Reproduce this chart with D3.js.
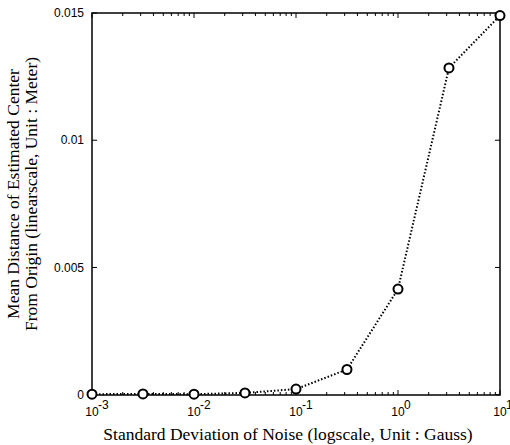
<!DOCTYPE html>
<html>
<head>
<meta charset="utf-8">
<script src="https://d3js.org/d3.v7.min.js"></script>
<style>
  body { margin: 0; background: #fff; }
  svg { display: block; }
  .tick-label { font-family: "Liberation Sans", Arial, sans-serif; font-size: 12px; }
  .axis-title { font-family: "Liberation Serif", "Times New Roman", serif; font-size: 17.5px; }
</style>
</head>
<body>
<svg id="chart" width="510" height="445"></svg>
<script>
// data
const noiseStd = [0.001, 0.00316, 0.01, 0.0316, 0.1, 0.316, 1, 3.16, 10];
const meanDist = [0.00002, 0.00003, 0.00002, 0.00007, 0.00022, 0.00099, 0.00415, 0.01284, 0.0149];
const xTickExps = [-3, -2, -1, 0, 1];
const yTicks = [0, 0.005, 0.01, 0.015];
const yTickLabels = ["0", "0.005", "0.01", "0.015"];

const svg = d3.select("#chart");
const margin = { left: 92, right: 10, top: 13, bottom: 50 };
const width = +svg.attr("width");
const height = +svg.attr("height");
const x0 = margin.left, x1 = width - margin.right;
const y0 = height - margin.bottom, y1 = margin.top;

const x = d3.scaleLog().domain([0.001, 10]).range([x0, x1]);
const y = d3.scaleLinear().domain([0, 0.015]).range([y0 - 0.3, y1]);

// minor ticks for log axis
const minorTicks = [];
xTickExps.slice(0, -1).forEach(e => {
    for (let k = 2; k <= 9; k++) minorTicks.push(k * Math.pow(10, e));
});

const g = svg.append("g");

// ticks (inside, top and bottom)
[y0, y1].forEach((yy, i) => {
    const dir = i === 0 ? -1 : 1;
    g.selectAll(null).data(xTickExps).enter().append("line")
        .attr("x1", d => x(Math.pow(10, d))).attr("x2", d => x(Math.pow(10, d)))
        .attr("y1", yy).attr("y2", yy + dir * 5)
        .attr("stroke", "#000").attr("stroke-width", 1);
    g.selectAll(null).data(minorTicks).enter().append("line")
        .attr("x1", d => x(d)).attr("x2", d => x(d))
        .attr("y1", yy).attr("y2", yy + dir * 3)
        .attr("stroke", "#000").attr("stroke-width", 1);
});
[x0, x1].forEach((xx, i) => {
    const dir = i === 0 ? 1 : -1;
    g.selectAll(null).data(yTicks).enter().append("line")
        .attr("x1", xx).attr("x2", xx + dir * 5)
        .attr("y1", d => y(d)).attr("y2", d => y(d))
        .attr("stroke", "#000").attr("stroke-width", 1);
});

// frame
g.append("rect")
    .attr("x", x0).attr("y", y1)
    .attr("width", x1 - x0).attr("height", y0 - y1)
    .attr("fill", "none").attr("stroke", "#000").attr("stroke-width", 1.5);

// y tick labels
g.selectAll("text.ylab").data(yTicks).enter().append("text")
    .attr("class", "tick-label ylab")
    .attr("x", x0 - 8)
    .attr("y", d => y(d))
    .attr("dy", "0.35em")
    .attr("text-anchor", "end")
    .text((d, i) => yTickLabels[i]);

// x tick labels: "10" centred on tick, exponent to the right
g.selectAll("text.xlab").data(xTickExps).enter().append("text")
    .attr("class", "tick-label xlab")
    .attr("x", d => x(Math.pow(10, d)))
    .attr("y", y0 + 21)
    .attr("text-anchor", "middle")
    .text("10");
g.selectAll("text.xexp").data(xTickExps).enter().append("text")
    .attr("class", "tick-label xexp")
    .attr("x", d => x(Math.pow(10, d)) + 6)
    .attr("y", y0 + 14)
    .attr("font-size", "9px")
    .text(d => String(d));

// line
const line = d3.line()
    .x((d, i) => x(noiseStd[i]))
    .y(d => y(d));
g.append("path")
    .datum(meanDist)
    .attr("d", line)
    .attr("fill", "none")
    .attr("stroke", "#000")
    .attr("stroke-width", 2)
    .attr("stroke-dasharray", "1.5,2");

// markers
g.selectAll("circle.pt").data(meanDist).enter().append("circle")
    .attr("class", "pt")
    .attr("cx", (d, i) => x(noiseStd[i]))
    .attr("cy", d => y(d))
    .attr("r", 4.5)
    .attr("fill", "#fff")
    .attr("stroke", "#000")
    .attr("stroke-width", 2);

// axis titles
g.append("text")
    .attr("class", "axis-title")
    .attr("x", 288)
    .attr("y", height - 5)
    .attr("text-anchor", "middle")
    .text("Standard Deviation of Noise (logscale, Unit : Gauss)");

const yt = g.append("text")
    .attr("class", "axis-title")
    .attr("transform", "translate(19,194) rotate(-90)")
    .attr("text-anchor", "middle");
yt.append("tspan").attr("x", 0).attr("dy", 0).text("Mean Distance of Estimated Center");
yt.append("tspan").attr("x", 0).attr("dy", 17.5).text("From Origin (linearscale, Unit : Meter)");
</script>
</body>
</html>
